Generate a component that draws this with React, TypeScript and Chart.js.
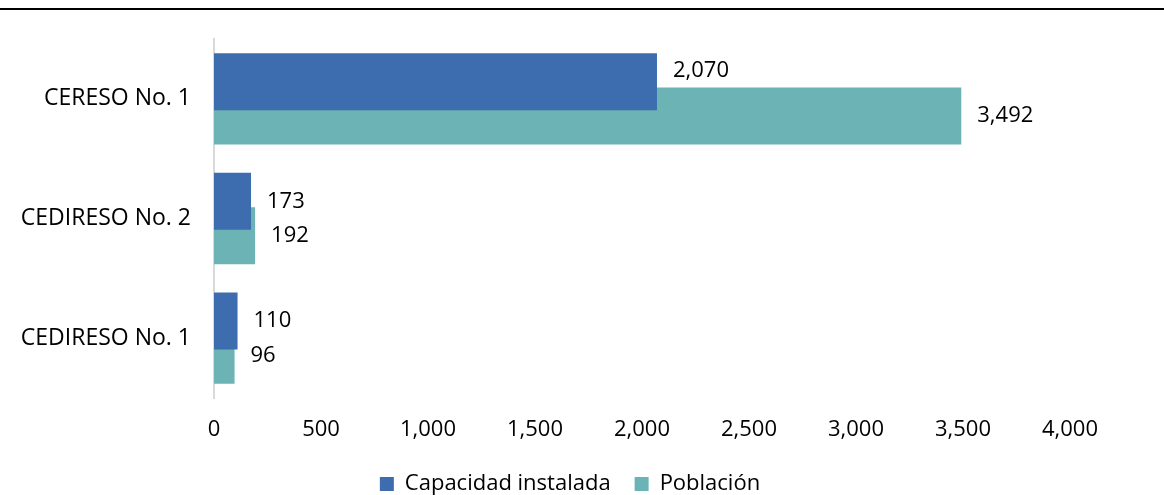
import React, { useEffect, useRef } from "react";
import { Chart, registerables } from "chart.js";

Chart.register(...registerables);

const categories = ["CERESO No. 1", "CEDIRESO No. 2", "CEDIRESO No. 1"];
const capacidad = [2070, 173, 110];
const poblacion = [3492, 192, 96];
const seriesNames = ["Capacidad instalada", "Población"];
const xTicks = [0, 500, 1000, 1500, 2000, 2500, 3000, 3500, 4000];

const FONT = "'Open Sans', 'Noto Sans', sans-serif";
const BLUE = "#3D6DAE";
const TEAL = "#6BB3B5";

const fmt = (v: number) => Number(v).toLocaleString("en-US");

const topRulePlugin = {
  id: "topRule",
  beforeDraw(chart: any) {
    const ctx = chart.ctx;
    ctx.save();
    ctx.fillStyle = "#000";
    ctx.fillRect(0, 8, chart.width, 2);
    ctx.restore();
  },
};

const valueLabelPlugin = {
  id: "valueLabels",
  afterDatasetsDraw(chart: any) {
    const ctx = chart.ctx;
    ctx.save();
    ctx.font = `22px ${FONT}`;
    ctx.fillStyle = "#000";
    ctx.textAlign = "left";
    ctx.textBaseline = "middle";
    const metas = chart.data.datasets.map((_: any, i: number) => chart.getDatasetMeta(i));
    metas.forEach((meta: any, di: number) => {
      meta.data.forEach((el: any, idx: number) => {
        const p = el.getProps(["x", "y", "base", "height"], true);
        const value = chart.data.datasets[di].data[idx] as number;
        const text = fmt(value);
        const w = ctx.measureText(text).width;
        const x = p.x + 16;
        let y = p.y;
        // avoid overlapping other series' bars (move above/below)
        metas.forEach((om: any, oi: number) => {
          if (oi === di) return;
          const o = om.data[idx];
          if (!o) return;
          const op = o.getProps(["x", "y", "base", "height"], true);
          const oTop = op.y - op.height / 2;
          const oBottom = op.y + op.height / 2;
          const left = Math.min(op.x, op.base);
          const right = Math.max(op.x, op.base);
          const tTop = y - 11;
          const tBottom = y + 11;
          if (x < right && x + w > left && tBottom > oTop && tTop < oBottom) {
            if (op.y > p.y) y = oTop - 16.5;
            else y = oBottom + 16.5;
          }
        });
        ctx.fillText(text, x, y);
      });
    });
    ctx.restore();
  },
};

export default function App() {
  const ref = useRef<HTMLCanvasElement | null>(null);

  useEffect(() => {
    if (!ref.current) return;
    Chart.defaults.font.family = FONT;
    Chart.defaults.color = "#000";
    const chart = new Chart(ref.current, {
      type: "bar",
      data: {
        labels: categories,
        datasets: [
          {
            label: seriesNames[0],
            data: capacidad,
            backgroundColor: BLUE,
            categoryPercentage: 0.573,
            barPercentage: 1.662,
          },
          {
            label: seriesNames[1],
            data: poblacion,
            backgroundColor: TEAL,
            categoryPercentage: 0.573,
            barPercentage: 1.662,
          },
        ],
      },
      options: {
        indexAxis: "y",
        responsive: false,
        animation: false,
        layout: { padding: { top: 39, left: 0, right: 24, bottom: -10 } },
        scales: {
          x: {
            type: "linear",
            min: xTicks[0],
            max: xTicks[xTicks.length - 1],
            afterBuildTicks: (scale: any) => {
              scale.ticks = xTicks.map((v) => ({ value: v }));
            },
            grid: { display: false, drawTicks: false },
            border: { display: false },
            ticks: {
              font: { size: 22, family: FONT },
              color: "#000",
              padding: 19,
              callback: (v: any) => fmt(v),
            },
            afterFit: (scale: any) => {
              scale.height = 51;
            },
          },
          y: {
            type: "category",
            grid: { display: false, drawTicks: false },
            border: { display: true, color: "#D9D9D9", width: 2 },
            ticks: {
              font: { size: 23, family: FONT },
              color: "#000",
              padding: 23,
            },
            afterFit: (scale: any) => {
              scale.width = 214;
            },
          },
          yr: {
            type: "category",
            position: "right",
            display: true,
            grid: { display: false, drawTicks: false },
            border: { display: false },
            ticks: { display: false },
            afterFit: (scale: any) => {
              scale.width = 70;
            },
          },
        },
        plugins: {
          legend: {
            position: "bottom",
            labels: {
              boxWidth: 14,
              boxHeight: 14,
              padding: 24,
              color: "#000",
              font: { size: 22, family: FONT },
            },
          },
          tooltip: { enabled: false },
        },
      },
      plugins: [topRulePlugin, valueLabelPlugin],
    });
    return () => chart.destroy();
  }, []);

  return (
    <div style={{ position: "fixed", left: 0, top: 0, width: 1164, height: 495, background: "#fff" }}>
      <canvas ref={ref} width={1164} height={495} style={{ display: "block" }} />
    </div>
  );
}
